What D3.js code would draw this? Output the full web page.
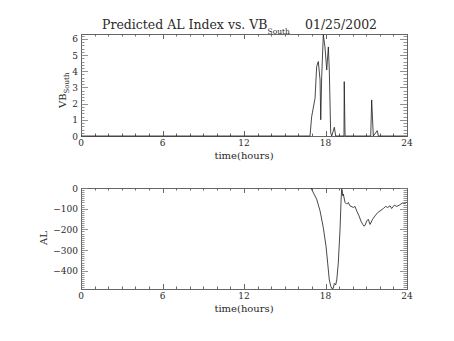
<!DOCTYPE html>
<html><head><meta charset="utf-8">
<script src="https://cdn.jsdelivr.net/npm/d3@7"></script>
<style>body{margin:0;background:#fff}svg{display:block}</style>
</head><body>
<svg id="c" width="454" height="341"></svg>
<script>
// ---- data ----
const titleMain = "Predicted AL Index vs. VB";
const titleSub = "South";
const titleDate = "01/25/2002";
const xTickLabels = [0, 6, 12, 18, 24];
const vbTickLabels = [0, 1, 2, 3, 4, 5, 6];
const alTickLabels = [0, -100, -200, -300, -400];
// VB_South: time (hours) and value
const vbTime = [0, 16.86, 16.98, 17.23, 17.35, 17.47, 17.60, 17.65, 17.72, 17.84, 17.96, 18.09, 18.21, 18.28, 18.38, 18.46, 18.65, 18.75, 19.36, 19.38, 19.44, 21.33, 21.40, 21.52, 21.81, 21.89, 24];
const vbValue = [0, 0, 1.19, 2.33, 4.29, 4.6, 3.46, 1.0, 3.67, 6.25, 5.5, 4.08, 5.5, 4.08, 0.2, 0, 0.54, 0, 0, 3.36, 0, 0, 2.23, 0, 0.33, 0, 0];
// AL: time (hours) and value
const alTime = [16.93, 17.35, 17.60, 17.84, 18.04, 18.16, 18.28, 18.38, 18.46, 18.57, 18.65, 18.75, 18.83, 18.94, 19.07, 19.14, 19.19, 19.24, 19.27, 19.31, 19.44, 19.56, 19.68, 19.80, 20.05, 20.17, 20.30, 20.47, 20.61, 20.74, 20.83, 20.91, 21.03, 21.15, 21.28, 21.47, 21.64, 21.84, 22.01, 22.26, 22.43, 22.58, 22.75, 22.87, 23.07, 23.24, 23.43, 23.65, 23.85, 23.98];
const alValue = [0, -54, -111, -192, -282, -363, -444, -473, -485, -485, -461, -468, -444, -363, -200, -70, -5, -13, -37, -29, -70, -78, -70, -86, -94, -89, -111, -135, -160, -176, -184, -181, -160, -151, -176, -151, -135, -119, -111, -99, -89, -94, -86, -99, -83, -89, -83, -73, -75, -70];

const svg = d3.select("#c");
const FONT = "DejaVu Serif";
const INK = "#2a2a2a";
const L = 81, R = 407;
const x = d3.scaleLinear().domain([0, 24]).range([L, R]);

function panel(top, bottom, domain, yTicks, minorStep, time, vals) {
  const y = d3.scaleLinear().domain(domain).range([bottom, top]);
  const g = svg.append("g");
  g.append("rect").attr("x", L + 0.5).attr("y", top + 0.5)
    .attr("width", R - L).attr("height", bottom - top)
    .attr("fill", "none").attr("stroke", "#666").attr("stroke-width", 1);
  const xMinor = d3.range(0, 24.001, 1);
  xMinor.forEach(t => {
    const major = t % 6 === 0;
    const len = major ? 5 : 2.5;
    const px = Math.round(x(t)) + 0.5;
    g.append("line").attr("x1", px).attr("x2", px).attr("y1", bottom).attr("y2", bottom - len).attr("stroke", "#666");
    g.append("line").attr("x1", px).attr("x2", px).attr("y1", top).attr("y2", top + len).attr("stroke", "#666");
  });
  const [d0, d1] = domain;
  const yMinor = d3.range(Math.ceil(d0 / minorStep) * minorStep, d1 + 1e-9, minorStep);
  yMinor.forEach(v => {
    const major = yTicks.some(t => Math.abs(t - v) < 1e-6);
    const len = major ? 7 : 3.5;
    const py = Math.round(y(v)) + 0.5;
    g.append("line").attr("x1", L).attr("x2", L + len).attr("y1", py).attr("y2", py).attr("stroke", "#777").attr("stroke-width", 0.8);
    g.append("line").attr("x1", R).attr("x2", R - len).attr("y1", py).attr("y2", py).attr("stroke", "#777").attr("stroke-width", 0.8);
  });
  xTickLabels.forEach(t => {
    g.append("text").attr("x", x(t)).attr("y", bottom + 10).attr("text-anchor", "middle")
      .attr("font-family", FONT).attr("font-size", 9).attr("fill", INK).text(t);
  });
  g.append("text").attr("x", (L + R) / 2).attr("y", bottom + 22.5).attr("text-anchor", "middle")
    .attr("font-family", FONT).attr("font-size", 10).attr("fill", INK).text("time(hours)");
  yTicks.forEach(t => {
    g.append("text").attr("x", L - 3).attr("y", y(t) + 3.5).attr("text-anchor", "end")
      .attr("font-family", FONT).attr("font-size", 9).attr("fill", INK)
      .text(t < 0 ? "\u2212" + Math.abs(t) : t);
  });
  const line = d3.line().x((d, i) => x(time[i])).y(d => y(d));
  g.append("path").datum(vals).attr("d", line).attr("fill", "none")
    .attr("stroke", "#1a1a1a").attr("stroke-width", 0.8);
  return y;
}

panel(34, 136, [0, 6.3], vbTickLabels, 0.2, vbTime, vbValue);
panel(188, 289, [-488, 0], alTickLabels, 10, alTime, alValue);

const vbLab = svg.append("text").attr("transform", "translate(66,108) rotate(-90)")
  .attr("font-family", FONT).attr("font-size", 10).attr("fill", INK);
vbLab.append("tspan").text("VB");
vbLab.append("tspan").attr("font-size", 7).attr("dy", 3).text("South");

svg.append("text").attr("transform", "translate(47,238) rotate(-90)").attr("text-anchor", "middle")
  .attr("font-family", FONT).attr("font-size", 10).attr("fill", INK).text("AL");

const tt = svg.append("text").attr("x", 102).attr("y", 29)
  .attr("font-family", FONT).attr("font-size", 12.5).attr("fill", INK);
tt.append("tspan").text(titleMain);
tt.append("tspan").attr("font-size", 7.5).attr("dy", 5).text(titleSub);
svg.append("text").attr("x", 305).attr("y", 29)
  .attr("font-family", FONT).attr("font-size", 12.5).attr("fill", INK).text(titleDate);
</script>
</body></html>
